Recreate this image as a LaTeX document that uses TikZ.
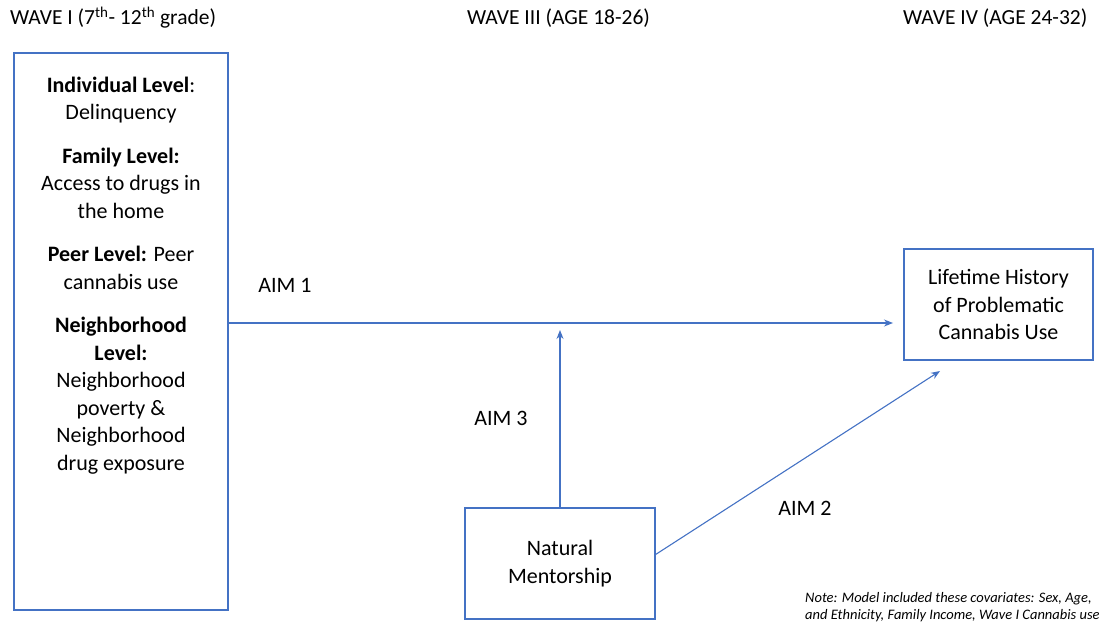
\documentclass[tikz,border=0pt]{standalone}
\usepackage{fontspec}
\setmainfont{Carlito}
\usetikzlibrary{arrows.meta,calc}
\definecolor{edge}{HTML}{4472C4}

\begin{document}
\begin{tikzpicture}
      [x = 1pt, y = -1pt,
      box/.style = {
         draw = edge,
         line width = 1.1pt,
         inner sep = 0pt
      },
      txt/.style = {
         font = \fontsize{22}{27.5}\selectfont,
         align = center
      },
      head/.style = {
         font = \fontsize{21.5}{24}\selectfont,
         anchor = base west,
         inner sep = 0pt
      },
      link/.style = {-{Stealth[length = 9pt, width = 7pt]}, draw = edge, line width = 1.1pt}]

      \useasboundingbox (0, 0) rectangle (1099, 628);

      % wave headers
      \node[head] (wave1head) at (10, 25) {WAVE I (7\textsuperscript{th}- 12\textsuperscript{th} grade)};
      \node[head] (wave3head) at (467, 25) {WAVE III (AGE 18-26)};
      \node[head] (wave4head) at (903, 25) {WAVE IV (AGE 24-32)};

      % boxes
      \node[box, minimum width = 214, minimum height = 557] (wave1) at (121, 331.5) {};
      \node[txt, anchor = north, inner sep = 0pt] (levels) at ([yshift = -24]wave1.north) {%
         \textbf{Individual Level}:\\ Delinquency\\[16pt]
         \textbf{Family Level:}\\ Access to drugs in\\ the home\\[16pt]
         \textbf{Peer Level:} Peer\\ cannabis use\\[16pt]
         \textbf{Neighborhood}\\ \textbf{Level:}\\ Neighborhood\\ poverty \&\\ Neighborhood\\ drug exposure};
      \node[box, txt, minimum width = 189, minimum height = 111] (outcome) at (998.5, 304.5)
         {Lifetime History\\ of Problematic\\ Cannabis Use};
      \node[box, txt, minimum width = 190, minimum height = 111] (mentor) at (560, 563.5)
         {Natural\\ Mentorship};

      % arrows
      \coordinate (aim1end) at (893, 323);
      \coordinate (aim3end) at (560, 330);
      \coordinate (aim2end) at (940, 371);
      \draw[link] (wave1.east |- aim1end) -- (aim1end);
      \draw[link] (mentor.north -| aim3end) -- (aim3end);
      \draw[link] ($(mentor.north east)!0.42!(mentor.south east)$) -- (aim2end);

      \node[txt] (aim1) at (285, 285) {AIM 1};
      \node[txt] (aim3) at (501, 418) {AIM 3};
      \node[txt] (aim2) at (805, 508) {AIM 2};

      % covariates note
      \node[anchor = base west, inner sep = 0pt, align = left,
         font = \fontsize{14.5}{17}\selectfont\itshape] (note) at (805, 619)
         {Note: Model included these covariates: Sex, Age,\\ and Ethnicity, Family Income, Wave I Cannabis use};

   \end{tikzpicture}
\end{document}
